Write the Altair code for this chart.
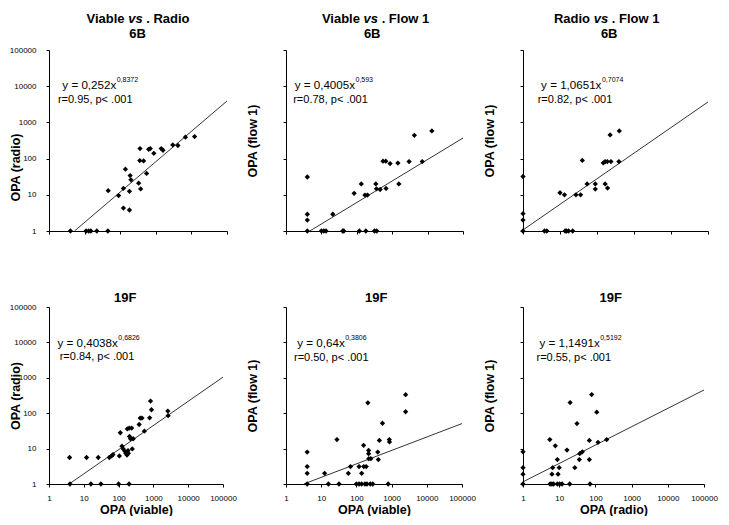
import altair as alt
import pandas as pd

FONT = "Liberation Sans"

# ---------------- data ----------------
# Panel 1: Viable vs Radio, 6B
p1_x = [4, 11, 13, 15, 22, 45, 46, 90, 123, 140, 123, 182, 182, 190, 200, 330, 375, 360, 355, 455,
        550, 630, 700, 880, 1420, 1590, 3000, 4170, 6800, 12300]
p1_y = [1, 1, 1, 1, 1, 1, 13, 9.5, 15, 51, 4.3, 3.8, 12.5, 34, 26, 21, 14.5, 189, 88, 86,
        39, 181, 189, 140, 189, 170, 238, 230, 390, 405]
# Panel 2: Viable vs Flow 1, 6B
p2_x = [4, 4, 4, 4, 10, 11.7, 13.5, 21, 40, 43, 84, 118, 134, 180, 170, 200, 316, 366, 345, 360,
        455, 550, 660, 670, 870, 1450, 1540, 3000, 4230, 7070, 13200]
p2_y = [1, 2, 2.9, 31, 1, 1, 1, 2.9, 1, 1, 11, 1, 20, 1, 9.8, 9.8, 1, 1, 20, 14.6,
        14, 85, 85, 15, 73, 75, 20, 83, 440, 83, 580]
# Panel 3: Radio vs Flow 1, 6B
p3_x = [1, 1, 1, 1, 3.8, 4.4, 13.8, 15, 17, 22, 10, 13.2, 27, 36, 40, 54, 90, 90, 148, 166,
        190, 238, 166, 193, 226, 400, 390]
p3_y = [1, 2, 3, 32, 1, 1, 1, 1, 1, 1, 11.4, 10, 10, 10, 89, 20, 20, 14.4, 76, 83,
        83, 83, 20, 15.3, 450, 580, 83]
# Panel 4: Viable vs Radio, 19F
p4_x = [3.9, 12, 26, 4, 16, 31, 100, 200, 54, 63, 69, 105, 112, 125, 136, 152, 162, 174, 186, 190,
        178, 203, 237, 206, 221, 263, 247, 390, 418, 470, 550, 780, 826, 880, 2600, 2650]
p4_y = [5.6, 5.6, 5.6, 1, 1, 1, 1, 1, 5.6, 6.2, 6.8, 6.2, 28, 11.7, 9.8, 8.4, 7.4, 6.6, 8.8, 7.4,
        36, 38, 38, 22, 19, 19, 9.8, 48, 73, 73, 31, 74, 220, 125, 115, 85]
# Panel 5: Viable vs Flow 1, 19F
p5_x = [4, 4, 4, 4, 12.5, 16, 32, 28, 59, 68, 100, 119, 119, 141, 141, 160, 162, 175, 190, 200,
        212, 222, 222, 225, 257, 248, 292, 405, 420, 450, 550, 800, 860, 870, 2500, 2500]
p5_y = [1, 2, 3.1, 8, 2, 1, 1, 18, 2, 3.1, 1, 3.1, 1, 2, 1, 12.4, 3.1, 1, 3.1, 1,
        196, 8.9, 7.2, 5.2, 5.2, 1, 1, 8, 4.9, 17, 52, 1, 18, 15.4, 333, 110]
# Panel 6: Radio vs Flow 1, 19F
p6_x = [1, 1, 1, 1, 5.5, 6.3, 6.6, 5.6, 6.3, 7, 7.8, 8.9, 9.3, 10, 8.9, 10.3, 12, 16.4, 19.5, 20,
        27, 31, 36, 37, 43.5, 68, 68, 71, 79, 109, 118, 205]
p6_y = [1, 1.9, 2.9, 8.1, 18, 1.9, 2.9, 1, 1, 1, 12, 4.9, 1.9, 2.9, 1, 1, 1, 9.1, 1, 200,
        2.9, 51, 4.9, 7.2, 8.1, 4.9, 17, 1, 336, 107, 15, 18]

# trend line end points
line_x = [[5.2, 100000], [4.7, 100000], [1, 100000], [3.8, 100000], [3.2, 100000], [1, 100000]]
line_y = [[1, 3900], [1, 370], [1.07, 3670], [1, 1045], [1, 51], [1.15, 453]]

# texts
title_words = [("Viable", "Radio"), ("Viable", "Flow 1"), ("Radio", "Flow 1")]
serotypes = ["6B", "19F"]
eq_main = ["y = 0,252x", "y = 0,4005x", "y = 1,0651x", "y = 0,4038x", "y = 0,64x", "y = 1,1491x"]
eq_exp = ["0,8372", "0,593", "0,7074", "0,6826", "0,3806", "0,5192"]
eq_stats = ["r=0.95, p< .001", "r=0.78, p< .001", "r=0.82, p< .001",
            "r=0.84, p< .001", "r=0.50, p< .001", "r=0.55, p< .001"]
x_titles = ["OPA (viable)", "OPA (viable)", "OPA (radio)"]
y_titles = ["OPA (radio)", "OPA (flow 1)", "OPA (flow 1)"]
tick_values = [1, 10, 100, 1000, 10000, 100000]

xs_all = [p1_x, p2_x, p3_x, p4_x, p5_x, p6_x]
ys_all = [p1_y, p2_y, p3_y, p4_y, p5_y, p6_y]

# ---------------- layout ----------------
widths = [178, 177, 185, 174, 176, 181]
heights = [181, 181, 181, 177, 177, 177]
title_cx = [88.9, 89.5, 83.7]
sub_cx = [88.5, 86.2, 86.2, 76.3, 90.3, 87.7]
eq_right = [67.2, 69, 78.4, 68.8, 58.7, 76.7]
stat_cx = [46.2, 44.5, 52, 48, 45.3, 50.8]
eq_y = [36.0, 36.0, 36.0, 37.0, 37.0, 37.0]
stat_y = [49.5, 49.5, 49.5, 50.0, 50.7, 50.7]

BOLD_W = {'V': .667, 'i': .278, 'a': .556, 'b': .611, 'l': .278, 'e': .556, 'R': .722,
          'd': .611, 'o': .611, 'F': .611, 'w': .778, ' ': .278, '1': .556, '.': .278,
          's': .556, 'v': .556}
TSIZE = 13


def wid(s):
    return sum(BOLD_W[c] for c in s) * TSIZE


def text_layer(txt, x, y, size, align="left", weight="normal", style="normal"):
    return alt.Chart(pd.DataFrame({"t": [txt]})).mark_text(
        font=FONT, fontSize=size, fontWeight=weight, fontStyle=style, align=align,
        baseline="middle", color="black"
    ).encode(text="t:N", x=alt.value(x), y=alt.value(y))


def panel(i):
    row, col = divmod(i, 3)
    bottom = row == 1
    scale = alt.Scale(type="log", domain=[1, 100000], nice=False)
    xaxis_kw = dict(values=tick_values, format="d", labels=bottom)
    if bottom:
        xaxis_kw["title"] = x_titles[col]
    else:
        xaxis_kw["title"] = None
    yaxis_kw = dict(values=tick_values, format="d", labels=(col == 0), title=y_titles[col])
    if i == 0:
        yaxis_kw["titleY"] = 117
    xaxis = alt.Axis(**xaxis_kw)
    yaxis = alt.Axis(**yaxis_kw)

    pts = alt.Chart(pd.DataFrame({"x": xs_all[i], "y": ys_all[i]})).mark_point(
        shape="diamond", filled=True, color="black", size=28, opacity=1
    ).encode(x=alt.X("x:Q", scale=scale, axis=xaxis), y=alt.Y("y:Q", scale=scale, axis=yaxis))

    ln = alt.Chart(pd.DataFrame({"x": line_x[i], "y": line_y[i]})).mark_line(
        color="black", strokeWidth=0.8
    ).encode(x=alt.X("x:Q", scale=scale, axis=xaxis), y=alt.Y("y:Q", scale=scale, axis=yaxis))

    layers = [ln, pts]
    # equation
    layers.append(text_layer(eq_main[i], eq_right[i], eq_y[i], 11.6, align="right"))
    layers.append(text_layer(eq_exp[i], eq_right[i] + 0.5, eq_y[i] - 6.5, 7))
    layers.append(text_layer(eq_stats[i], stat_cx[i], stat_y[i], 11, align="center"))
    # titles
    if row == 0:
        a, b = title_words[col]
        rest = ". " + b
        sp = BOLD_W[' '] * TSIZE
        wvs = 1.112 * TSIZE
        W = wid(a) + sp + wvs + sp + wid(rest)
        L = title_cx[col] - W / 2
        xa = L + wid(a)
        ty = -31.2
        layers.append(text_layer(a, xa, ty, TSIZE, align="right", weight="bold"))
        layers.append(text_layer("vs", xa + sp, ty, TSIZE, weight="bold", style="italic"))
        layers.append(text_layer(rest, xa + sp + wvs + sp, ty, TSIZE, weight="bold"))
        layers.append(text_layer(serotypes[0], sub_cx[i], -16.2, TSIZE, align="center", weight="bold"))
    else:
        layers.append(text_layer(serotypes[1], sub_cx[i], -9.3, TSIZE, align="center", weight="bold"))

    return alt.layer(*layers).properties(width=widths[i], height=heights[i])


chart = alt.concat(
    *[panel(i) for i in range(6)], columns=3, align="all", bounds="full",
    spacing={"row": 32, "column": 2}
).properties(
    padding={"left": 1, "top": 4, "right": 0, "bottom": 0}
).configure_view(
    strokeOpacity=0
).configure_axis(
    domainColor="black", tickColor="black", labelColor="black", titleColor="black",
    grid=False, labelFont=FONT, titleFont=FONT, labelFontSize=8, titleFontSize=12.5,
    titleFontWeight="bold", tickSize=3, domainWidth=1, tickWidth=1,
    labelFlush=False, labelOverlap=False
).configure_axisY(
    labelPadding=10, titleX=-34, titleBaseline="middle"
).configure_axisX(
    labelPadding=7, titlePadding=1
)

chart.save("out.html", embed_options={"renderer": "svg", "actions": False})
